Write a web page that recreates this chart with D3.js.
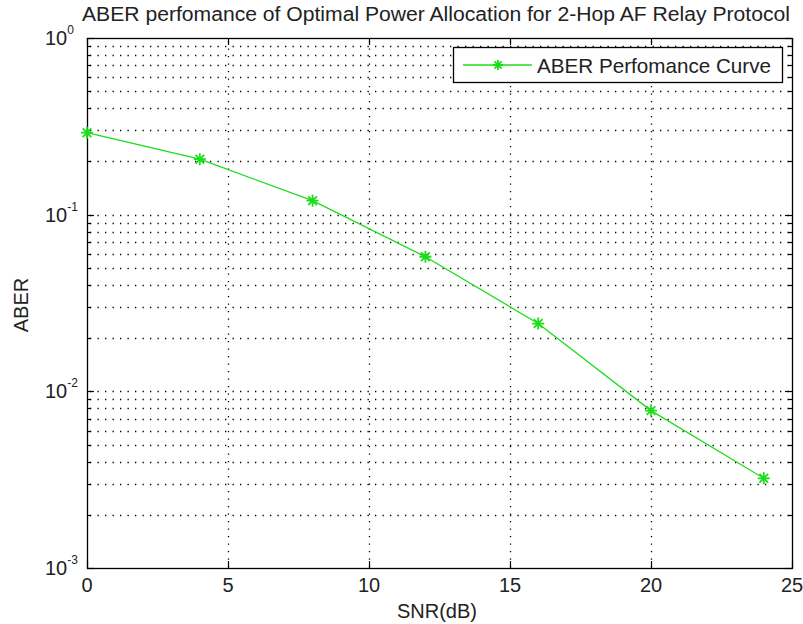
<!DOCTYPE html>
<html>
<head>
<meta charset="utf-8">
<script src="https://cdn.jsdelivr.net/npm/d3@7"></script>
<style>
  body { margin: 0; background: #fff; }
  text { font-family: "Liberation Sans", Arial, sans-serif; fill: #222; }
</style>
</head>
<body>
<div id="chart"></div>
<script>
// data
var snr = [0, 4, 8, 12, 16, 20, 24];
var aber = [0.291, 0.206, 0.12, 0.0578, 0.0242, 0.00778, 0.00322];
var xTicks = [0, 5, 10, 15, 20, 25];
var yDecades = [-3, -2, -1, 0];
var seriesName = "ABER Perfomance Curve";
var titleText = "ABER perfomance of Optimal Power Allocation for 2-Hop AF Relay Protocol";

var W = 803, H = 624;
var pL = 87, pR = 792, pT = 38, pB = 568;

var svg = d3.select("#chart").append("svg")
    .attr("width", W)
    .attr("height", H);

var x = d3.scaleLinear().domain([0, 25]).range([pL, pR]);
var y = d3.scaleLog().domain([1e-3, 1]).range([pB, pT]);

// minor log values
var minor = [];
yDecades.slice(0, -1).forEach(function(e) {
    for (var m = 2; m <= 9; m++) minor.push(m * Math.pow(10, e));
});
var major = yDecades.map(function(e) { return Math.pow(10, e); });

// grid
var grid = svg.append("g")
    .attr("stroke", "#000")
    .attr("stroke-width", 1.3)
    .attr("stroke-dasharray", "1.3,6.2");

grid.selectAll("line.hy")
    .data(minor.concat(major.slice(1, -1)))
    .enter().append("line")
    .attr("x1", pL + 3).attr("x2", pR)
    .attr("y1", function(d) { return Math.round(y(d)) + 0.5; })
    .attr("y2", function(d) { return Math.round(y(d)) + 0.5; });

grid.selectAll("line.vx")
    .data(xTicks.slice(1, -1))
    .enter().append("line")
    .attr("y1", pT + 3).attr("y2", pB)
    .attr("x1", function(d) { return Math.round(x(d)) + 0.5; })
    .attr("x2", function(d) { return Math.round(x(d)) + 0.5; });

// ticks (inside, all four sides)
var ticks = svg.append("g").attr("stroke", "#000").attr("stroke-width", 1.2);
xTicks.forEach(function(t) {
    var px = Math.round(x(t)) + 0.5;
    ticks.append("line").attr("x1", px).attr("x2", px).attr("y1", pB).attr("y2", pB - 7);
    ticks.append("line").attr("x1", px).attr("x2", px).attr("y1", pT).attr("y2", pT + 7);
});
major.forEach(function(t) {
    var py = Math.round(y(t)) + 0.5;
    ticks.append("line").attr("x1", pL).attr("x2", pL + 7).attr("y1", py).attr("y2", py);
    ticks.append("line").attr("x1", pR).attr("x2", pR - 7).attr("y1", py).attr("y2", py);
});
minor.forEach(function(t) {
    var py = Math.round(y(t)) + 0.5;
    ticks.append("line").attr("x1", pL).attr("x2", pL + 4).attr("y1", py).attr("y2", py);
    ticks.append("line").attr("x1", pR).attr("x2", pR - 4).attr("y1", py).attr("y2", py);
});

// box
svg.append("rect")
    .attr("x", pL + 0.5).attr("y", pT + 0.5)
    .attr("width", pR - pL).attr("height", pB - pT)
    .attr("fill", "none").attr("stroke", "#000").attr("stroke-width", 1.3);

// tick labels
svg.selectAll("text.xt")
    .data(xTicks)
    .enter().append("text")
    .attr("x", function(d) { return x(d); })
    .attr("y", 592)
    .attr("text-anchor", "middle")
    .attr("font-size", 20)
    .text(function(d) { return d; });

yDecades.forEach(function(e) {
    var t = svg.append("text")
        .attr("x", 45)
        .attr("y", y(Math.pow(10, e)) + 7)
        .attr("font-size", 20);
    t.append("tspan").text("10");
    t.append("tspan").attr("font-size", 12).attr("dy", -11).text(e);
});

// axis titles
svg.append("text")
    .attr("x", 437)
    .attr("y", 618)
    .attr("text-anchor", "middle")
    .attr("font-size", 20)
    .text("SNR(dB)");

svg.append("text")
    .attr("transform", "translate(28,305) rotate(-90)")
    .attr("text-anchor", "middle")
    .attr("font-size", 20)
    .text("ABER");

svg.append("text")
    .attr("x", 82)
    .attr("y", 21)
    .attr("font-size", 20)
    .attr("textLength", 708)
    .attr("lengthAdjust", "spacingAndGlyphs")
    .text(titleText);

// series
var green = "#1cdc1c";
var line = d3.line()
    .x(function(d, i) { return x(snr[i]); })
    .y(function(d) { return y(d); });

svg.append("path")
    .datum(aber)
    .attr("d", line)
    .attr("fill", "none")
    .attr("stroke", green)
    .attr("stroke-width", 1.3);

function star(g, cx, cy, r) {
    var d = r * 0.72;
    g.append("path")
        .attr("d", "M" + (cx - r) + "," + cy + "H" + (cx + r) +
                   "M" + cx + "," + (cy - r) + "V" + (cy + r) +
                   "M" + (cx - d) + "," + (cy - d) + "L" + (cx + d) + "," + (cy + d) +
                   "M" + (cx - d) + "," + (cy + d) + "L" + (cx + d) + "," + (cy - d))
        .attr("stroke", green)
        .attr("stroke-width", 1.8)
        .attr("fill", "none");
}

var marks = svg.append("g");
aber.forEach(function(v, i) {
    star(marks, x(snr[i]), y(v), 6);
});

// legend
var lg = svg.append("g");
lg.append("rect")
    .attr("x", 453.5).attr("y", 47.5)
    .attr("width", 329).attr("height", 35)
    .attr("fill", "#fff").attr("stroke", "#000").attr("stroke-width", 1.3);
lg.append("line")
    .attr("x1", 463).attr("x2", 532).attr("y1", 65).attr("y2", 65)
    .attr("stroke", green).attr("stroke-width", 1.3);
star(lg, 498, 65, 5);
lg.append("text")
    .attr("x", 537).attr("y", 73)
    .attr("font-size", 21)
    .attr("textLength", 234)
    .attr("lengthAdjust", "spacingAndGlyphs")
    .text(seriesName);
</script>
</body>
</html>
